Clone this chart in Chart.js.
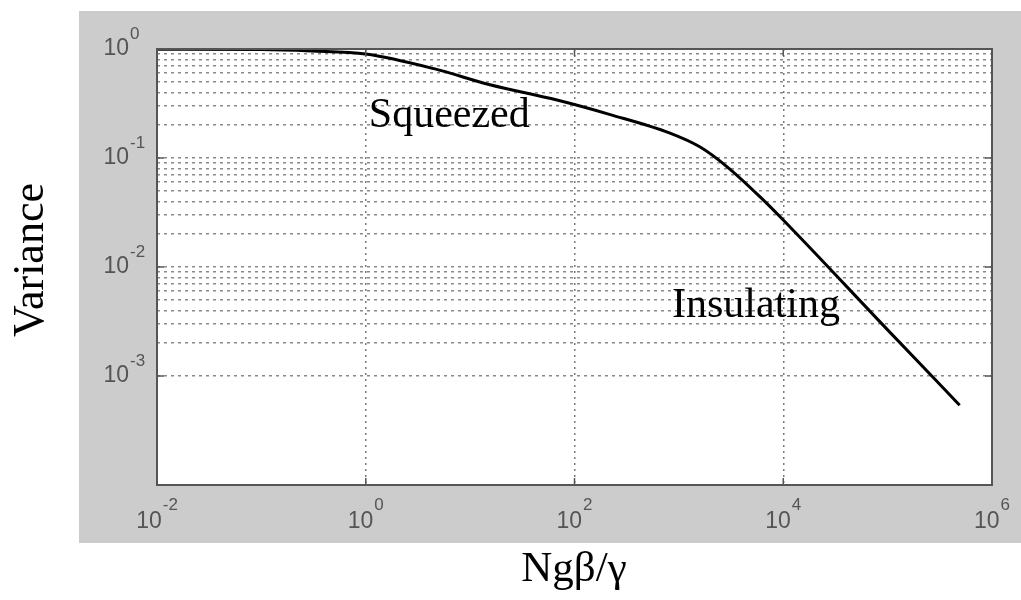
<!DOCTYPE html>
<html>
<head>
<meta charset="utf-8">
<script src="https://cdn.jsdelivr.net/npm/chart.js@4/dist/chart.umd.min.js"></script>
<style>
  html, body { margin: 0; padding: 0; background: #ffffff; }
  #wrap { width: 1021px; height: 600px; position: relative; }
</style>
</head>
<body>
<div id="wrap"><canvas id="c" width="1021" height="600"></canvas></div>
<script>
// ---- data ----
const xValues = [0.01, 0.1, 0.3, 1, 4.5, 15.5, 68, 220, 810, 1600, 2900, 6000, 10000, 100000, 490000];
const varianceValues = [0.995, 0.99, 0.96, 0.9, 0.66, 0.47, 0.34, 0.25, 0.17, 0.126, 0.083, 0.044, 0.027, 0.00265, 0.00054];

const xTickValues = [0.01, 1, 100, 10000, 1000000];
const xTickBase = ['10', '10', '10', '10', '10'];
const xTickExps = ['-2', '0', '2', '4', '6'];

const yTickValues = [1, 0.1, 0.01, 0.001];
const yTickBase = ['10', '10', '10', '10'];
const yTickExps = ['0', '-1', '-2', '-3'];
const yMinorMultipliers = [1, 2, 3, 4, 5, 6, 7, 8, 9];
const yGridDecades = [-3, -2, -1];

const xTitle = 'Ngβ/γ';
const yTitle = 'Variance';
const annotations = [
  { text: 'Squeezed', x: 1.07, y: 0.192 },
  { text: 'Insulating', x: 860, y: 0.00348 }
];

const serif = '"Liberation Serif", "Times New Roman", serif';
const sans = '"Liberation Sans", Arial, sans-serif';

const decorPlugin = {
  id: 'decor',
  beforeDraw(chart) {
    const ctx = chart.ctx;
    const a = chart.chartArea;
    ctx.save();
    ctx.fillStyle = '#ffffff';
    ctx.fillRect(0, 0, chart.width, chart.height);
    ctx.fillStyle = '#cccccc';
    ctx.fillRect(79, 11, 942, 532);
    ctx.fillStyle = '#ffffff';
    ctx.fillRect(a.left, a.top, a.right - a.left, a.bottom - a.top);
    ctx.restore();
  },
  afterDraw(chart) {
    const ctx = chart.ctx;
    const a = chart.chartArea;
    const xs = chart.scales.x, ys = chart.scales.y;
    ctx.save();
    // axes box
    ctx.strokeStyle = '#555555';
    ctx.lineWidth = 2;
    ctx.strokeRect(a.left, a.top, a.right - a.left, a.bottom - a.top);
    // inner tick marks
    ctx.lineWidth = 1.5;
    xTickValues.forEach(v => {
      const px = xs.getPixelForValue(v);
      ctx.beginPath(); ctx.moveTo(px, a.bottom); ctx.lineTo(px, a.bottom - 7); ctx.stroke();
      ctx.beginPath(); ctx.moveTo(px, a.top); ctx.lineTo(px, a.top + 7); ctx.stroke();
    });
    yTickValues.forEach(v => {
      const py = ys.getPixelForValue(v);
      ctx.beginPath(); ctx.moveTo(a.left, py); ctx.lineTo(a.left + 7, py); ctx.stroke();
      ctx.beginPath(); ctx.moveTo(a.right, py); ctx.lineTo(a.right - 7, py); ctx.stroke();
    });
    // tick labels with superscripts
    ctx.fillStyle = '#555555';
    ctx.textBaseline = 'middle';
    const baseFont = '23px ' + sans;
    const expFont = '17px ' + sans;
    xTickValues.forEach((v, i) => {
      const px = xs.getPixelForValue(v);
      ctx.font = baseFont;
      const wb = ctx.measureText(xTickBase[i]).width;
      ctx.font = expFont;
      const we = ctx.measureText(xTickExps[i]).width;
      const start = px - (wb + we + 1) / 2;
      ctx.font = baseFont; ctx.textAlign = 'left';
      ctx.fillText(xTickBase[i], start, 522);
      ctx.font = expFont;
      ctx.fillText(xTickExps[i], start + wb + 1, 505);
    });
    yTickValues.forEach((v, i) => {
      const py = ys.getPixelForValue(v);
      ctx.font = baseFont; ctx.textAlign = 'right';
      ctx.fillText(yTickBase[i], 129, py);
      ctx.font = expFont; ctx.textAlign = 'left';
      ctx.fillText(yTickExps[i], 130, py - 15);
    });
    // annotations
    ctx.fillStyle = '#000000';
    ctx.font = '42px ' + serif;
    ctx.textAlign = 'left';
    ctx.textBaseline = 'alphabetic';
    annotations.forEach(an => {
      ctx.fillText(an.text, xs.getPixelForValue(an.x), ys.getPixelForValue(an.y));
    });
    // axis titles
    ctx.font = '43px ' + serif;
    ctx.textAlign = 'center';
    ctx.fillText(xTitle, 574, 581);
    ctx.save();
    ctx.translate(43, 260);
    ctx.rotate(-Math.PI / 2);
    ctx.font = '44px ' + serif;
    ctx.fillText(yTitle, 0, 0);
    ctx.restore();
    ctx.restore();
  }
};

new Chart(document.getElementById('c'), {
  type: 'line',
  data: {
    datasets: [{
      data: xValues.map((x, i) => ({ x: x, y: varianceValues[i] })),
      borderColor: '#000000',
      borderWidth: 3,
      pointRadius: 0,
      cubicInterpolationMode: 'monotone',
      fill: false
    }]
  },
  options: {
    responsive: false,
    animation: false,
    events: [],
    layout: { padding: { left: 157, top: 49, right: 29, bottom: 115 } },
    plugins: { legend: { display: false }, tooltip: { enabled: false } },
    scales: {
      x: {
        type: 'logarithmic',
        min: 0.01,
        max: 1000000,
        afterBuildTicks(scale) { scale.ticks = xTickValues.map(v => ({ value: v })); },
        ticks: { display: false },
        grid: { drawTicks: false, color: '#7a7a7a', lineWidth: 1.5 },
        border: { display: false, dash: [2, 4] }
      },
      y: {
        type: 'logarithmic',
        min: 0.0001,
        max: 1,
        afterBuildTicks(scale) {
          const t = [];
          yGridDecades.forEach(k => yMinorMultipliers.forEach(m => t.push({ value: m * Math.pow(10, k) })));
          t.push({ value: 1 });
          scale.ticks = t;
        },
        ticks: { display: false },
        grid: { drawTicks: false, color: '#8a8a8a', lineWidth: 1.5 },
        border: { display: false, dash: [3, 4] }
      }
    }
  },
  plugins: [decorPlugin]
});
</script>
</body>
</html>
